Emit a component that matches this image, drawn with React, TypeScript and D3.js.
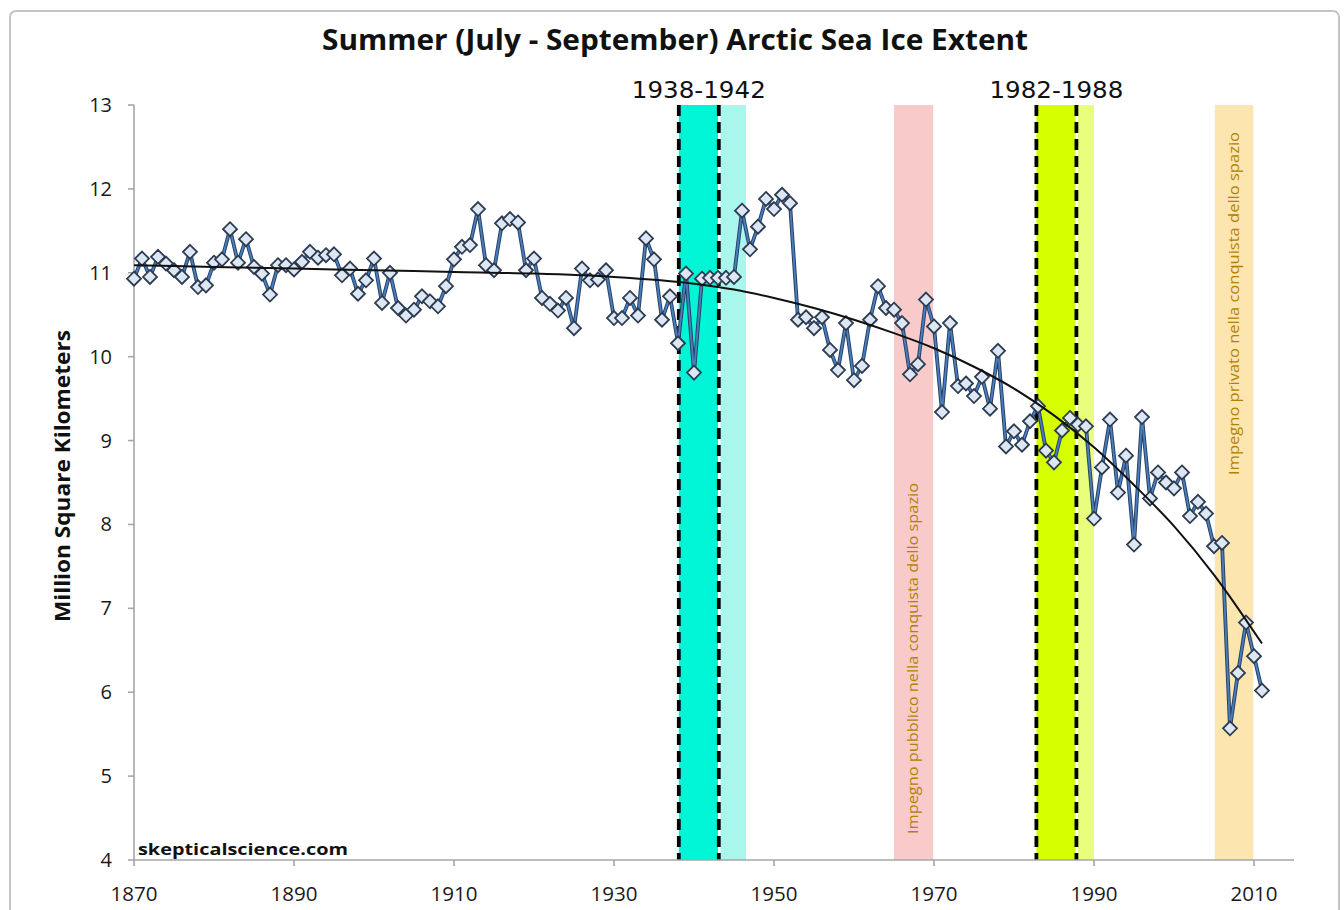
import React from 'react'
import * as d3 from 'd3'

// Summer (Jul-Sep) Arctic sea ice extent, million km²
const firstYear = 1870
const extent1870to1919 = [
  10.93, 11.17, 10.95, 11.19, 11.11, 11.03, 10.95, 11.25, 10.83, 10.85,
  11.12, 11.16, 11.52, 11.12, 11.40, 11.07, 10.99, 10.74, 11.09, 11.09,
  11.04, 11.13, 11.25, 11.18, 11.21, 11.22, 10.97, 11.05, 10.75, 10.91,
  11.17, 10.64, 11.00, 10.58, 10.49, 10.56, 10.72, 10.66, 10.60, 10.84,
  11.16, 11.31, 11.33, 11.76, 11.09, 11.03, 11.59, 11.64, 11.60, 11.03
]
const extent1920to1969 = [
  11.17, 10.70, 10.63, 10.55, 10.70, 10.34, 11.05, 10.91, 10.92, 11.03,
  10.46, 10.46, 10.70, 10.49, 11.41, 11.16, 10.44, 10.72, 10.16, 10.99,
  9.81, 10.93, 10.94, 10.94, 10.94, 10.95, 11.74, 11.28, 11.55, 11.88,
  11.76, 11.93, 11.83, 10.44, 10.47, 10.34, 10.47, 10.08, 9.84, 10.40,
  9.72, 9.89, 10.44, 10.84, 10.58, 10.56, 10.40, 9.79, 9.91, 10.68
]
const extent1970to2011 = [
  10.36, 9.34, 10.40, 9.65, 9.68, 9.53, 9.76, 9.38, 10.07, 8.93,
  9.11, 8.95, 9.23, 9.41, 8.88, 8.74, 9.12, 9.27, 9.19, 9.17,
  8.07, 8.68, 9.25, 8.38, 8.82, 7.76, 9.28, 8.31, 8.62, 8.50,
  8.43, 8.62, 8.10, 8.27, 8.13, 7.74, 7.78, 5.57, 6.23, 6.83,
  6.43, 6.02
]

// polynomial trendline
const trendYears = [1870, 1880, 1890, 1900, 1910, 1920, 1930, 1940, 1945, 1950, 1955, 1960, 1965, 1970, 1975, 1980, 1985, 1990, 1995, 2000, 2005, 2011]
const trendValues = [11.09, 11.07, 11.05, 11.03, 11.01, 10.99, 10.95, 10.87, 10.80, 10.70, 10.58, 10.44, 10.28, 10.10, 9.88, 9.62, 9.30, 8.92, 8.47, 7.98, 7.40, 6.58]

// shaded periods [from, to]
const periodCyan = [1938.1, 1943.0]
const periodCyanLight = [1943.3, 1946.5]
const periodPink = [1965, 1969.9]
const periodYellow = [1982.8, 1987.7]
const periodYellowLight = [1988.0, 1990]
const periodOrange = [2005.1, 2009.9]
const dashedYears = [1938.1, 1943.1, 1982.8, 1987.8]

const xTicks = [1870, 1890, 1910, 1930, 1950, 1970, 1990, 2010]
const yTicks = [4, 5, 6, 7, 8, 9, 10, 11, 12, 13]

const title = 'Summer (July - September) Arctic Sea Ice Extent'
const yLabel = 'Million Square Kilometers'
const credit = 'skepticalscience.com'
const rangeLabels = ['1938-1942', '1982-1988']
const publicLabel = 'Impegno pubblico nella conquista dello spazio'
const privateLabel = 'Impegno privato nella conquista dello spazio'

const extent = [...extent1870to1919, ...extent1920to1969, ...extent1970to2011]
const series = extent.map((v, i) => ({ year: firstYear + i, value: v }))
const trend = trendYears.map((yr, i) => ({ year: yr, value: trendValues[i] }))

const W = 1344
const H = 910

const App: React.FC = () => {
  const x = d3.scaleLinear().domain([1870, 2015]).range([134, 1294])
  const y = d3.scaleLinear().domain([4, 13]).range([860, 105])
  const top = y(13)
  const bottom = y(4)

  const line = d3.line<{ year: number; value: number }>()
    .x(d => x(d.year))
    .y(d => y(d.value))
  const trendLine = d3.line<{ year: number; value: number }>()
    .x(d => x(d.year))
    .y(d => y(d.value))
    .curve(d3.curveMonotoneX)

  const band = (p: number[], fill: string) => (
    <rect x={x(p[0])} y={top} width={x(p[1]) - x(p[0])} height={bottom - top} fill={fill} />
  )

  const diamond = 7
  const sans = 'Open Sans, Noto Sans, sans-serif'

  return (
    <svg width={W} height={H} style={{ position: 'absolute', left: 0, top: 0, background: '#fff' }}>
      <rect x={10} y={11} width={1329} height={930} rx={6} fill="#fff" stroke="#c4c4c4" strokeWidth={2} />

      <text x={675} y={50} textAnchor="middle" fontFamily={sans} fontWeight="bold" fontSize={28}
        textLength={706} lengthAdjust="spacingAndGlyphs" fill="#111">{title}</text>

      {/* shaded periods */}
      {band(periodCyan, '#00f5d6')}
      {band(periodCyanLight, '#a9f6ec')}
      {band(periodPink, '#f8cbca')}
      {band(periodYellow, '#d6ff00')}
      {band(periodYellowLight, '#e9ff7c')}
      {band(periodOrange, '#fde5b0')}

      <text transform={`translate(918,834) rotate(-90)`} fontFamily={sans} fontSize={14.5} fontWeight={500}
        textLength={351} lengthAdjust="spacingAndGlyphs" fill="#b58000">{publicLabel}</text>
      <text transform={`translate(1239,475) rotate(-90)`} fontFamily={sans} fontSize={14.5} fontWeight={500}
        textLength={343} lengthAdjust="spacingAndGlyphs" fill="#b58000">{privateLabel}</text>

      {dashedYears.map((yr, i) => (
        <line key={i} x1={x(yr)} x2={x(yr)} y1={top} y2={bottom}
          stroke="#000" strokeWidth={3.8} strokeDasharray="11,6" />
      ))}

      {rangeLabels.map((lbl, i) => {
        const cx = (x(dashedYears[i * 2]) + x(dashedYears[i * 2 + 1])) / 2
        return (
          <text key={lbl} x={cx} y={98} textAnchor="middle" fontFamily="DejaVu Sans, sans-serif"
            fontSize={23} textLength={134} lengthAdjust="spacingAndGlyphs" fill="#111">{lbl}</text>
        )
      })}

      {/* axes */}
      <line x1={x(1870)} x2={x(1870)} y1={top} y2={bottom} stroke="#a6a6a6" strokeWidth={1.6} />
      <line x1={x(1870)} x2={x(2015)} y1={bottom} y2={bottom} stroke="#a6a6a6" strokeWidth={1.6} />
      {yTicks.map(t => (
        <g key={t}>
          <line x1={x(1870) - 6} x2={x(1870)} y1={y(t)} y2={y(t)} stroke="#a6a6a6" strokeWidth={1.6} />
          <text x={112} y={y(t) + 7} textAnchor="end" fontFamily={sans} fontSize={20} fill="#1a1a1a">{t}</text>
        </g>
      ))}
      {xTicks.map(t => (
        <g key={t}>
          <line x1={x(t)} x2={x(t)} y1={bottom} y2={bottom + 6} stroke="#a6a6a6" strokeWidth={1.6} />
          <text x={x(t)} y={901} textAnchor="middle" fontFamily={sans} fontSize={20}
            textLength={47} lengthAdjust="spacingAndGlyphs" fill="#1a1a1a">{t}</text>
        </g>
      ))}

      <text transform={`translate(70,476) rotate(-90)`} textAnchor="middle" fontFamily={sans}
        fontWeight="bold" fontSize={21} textLength={292} lengthAdjust="spacingAndGlyphs" fill="#111">{yLabel}</text>

      <text x={138} y={855} fontFamily={sans} fontWeight="bold" fontSize={16.5}
        textLength={210} lengthAdjust="spacingAndGlyphs" fill="#111">{credit}</text>

      {/* data series */}
      <path d={line(series) || ''} fill="none" stroke="#243f63" strokeWidth={3.8} strokeLinejoin="round" />
      <path d={line(series) || ''} fill="none" stroke="#4a7dba" strokeWidth={1.9} strokeLinejoin="round" />
      {series.map(d => {
        const cx = x(d.year)
        const cy = y(d.value)
        return (
          <path key={d.year}
            d={`M${cx},${cy - diamond}L${cx + diamond},${cy}L${cx},${cy + diamond}L${cx - diamond},${cy}Z`}
            fill="#dde7f3" stroke="#2c3b50" strokeWidth={1.8} />
        )
      })}

      <path d={trendLine(trend) || ''} fill="none" stroke="#111" strokeWidth={2} />
    </svg>
  )
}

export default App
